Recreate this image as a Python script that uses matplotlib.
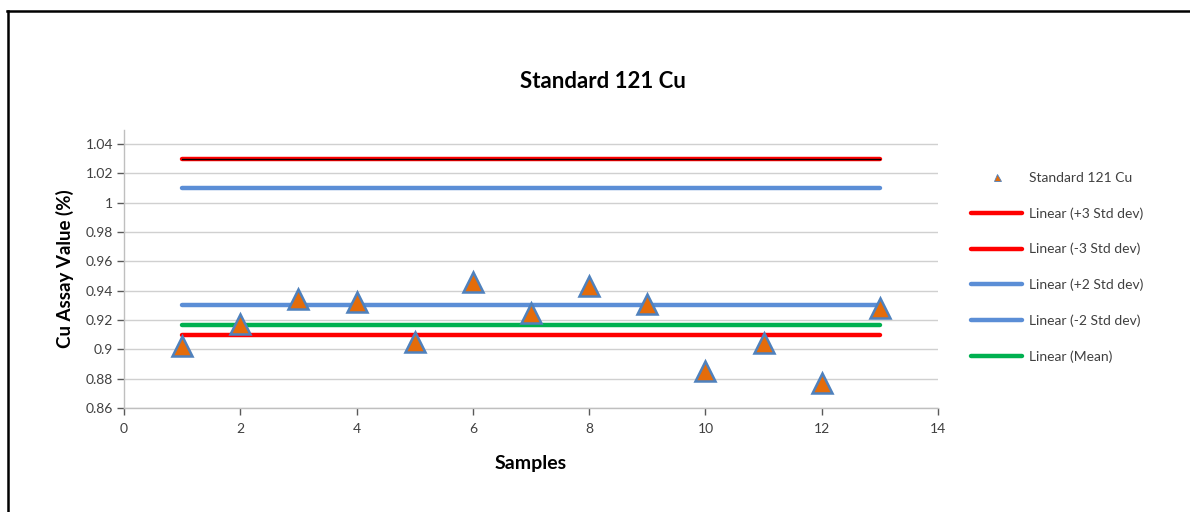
import matplotlib
matplotlib.use("Agg")
import matplotlib.pyplot as plt
from matplotlib.lines import Line2D

plt.rcParams['font.family'] = ['Lato', 'DejaVu Sans']

samples = [1, 2, 3, 4, 5, 6, 7, 8, 9, 10, 11, 12, 13]
cu_values = [0.902, 0.917, 0.934, 0.932, 0.905, 0.946, 0.925, 0.943, 0.931, 0.885, 0.904, 0.877, 0.928]
line_x = [1, 13]
plus3 = [1.03, 1.03]
minus3 = [0.91, 0.91]
plus2 = [1.01, 1.01]
minus2 = [0.93, 0.93]
mean_line = [0.9165, 0.9165]
yticks = [0.86, 0.88, 0.9, 0.92, 0.94, 0.96, 0.98, 1.0, 1.02, 1.04]
ytick_labels = ['0.86', '0.88', '0.9', '0.92', '0.94', '0.96', '0.98', '1', '1.02', '1.04']
xticks = [0, 2, 4, 6, 8, 10, 12, 14]

W, H = 1190, 512
fig = plt.figure(figsize=(W / 100, H / 100), dpi=100)
ax = fig.add_axes([124 / W, (H - 408) / H, (938 - 124) / W, (408 - 130) / H])

RED = '#FF0000'
BLUE = '#5B8ED6'
GREEN = '#00B050'
ORANGE = '#E46C0A'
EDGE = '#4F81BD'

lw = 3.2
ax.plot(line_x, plus3, color=RED, lw=lw, solid_capstyle='round', label='Linear (+3 Std dev)', zorder=3)
ax.plot(line_x, plus3, color='black', lw=1.0, zorder=3.1)
ax.plot(line_x, minus3, color=RED, lw=lw, solid_capstyle='round', label='Linear (-3 Std dev)', zorder=3)
ax.plot(line_x, plus2, color=BLUE, lw=lw, solid_capstyle='round', label='Linear (+2 Std dev)', zorder=3)
ax.plot(line_x, minus2, color=BLUE, lw=lw, solid_capstyle='round', label='Linear (-2 Std dev)', zorder=3)
ax.plot(line_x, mean_line, color=GREEN, lw=lw, solid_capstyle='round', label='Linear (Mean)', zorder=3)
ax.plot(samples, cu_values, linestyle='none', marker='^', markersize=14,
        markerfacecolor=ORANGE, markeredgecolor=EDGE, markeredgewidth=1.8,
        label='Standard 121 Cu', zorder=4)

ax.set_xlim(0, 14)
ax.set_ylim(0.86, 1.0495)
ax.set_xticks(xticks)
ax.set_yticks(yticks)
ax.set_yticklabels(ytick_labels)
ax.tick_params(axis='both', labelsize=10, colors='#595959', length=5, width=1,
               direction='out', labelcolor='#404040')
ax.tick_params(axis='x', pad=6)
ax.tick_params(axis='y', pad=3)
ax.grid(axis='y', color='#D0D0D0', lw=1)
ax.set_axisbelow(True)
for s in ['top', 'right']:
    ax.spines[s].set_visible(False)
for s in ['left', 'bottom']:
    ax.spines[s].set_color('#BFBFBF')
    ax.spines[s].set_linewidth(1)

ax.set_xlabel('Samples', fontsize=14, fontweight='bold', labelpad=14)
ax.set_ylabel('Cu Assay Value (%)', fontsize=13.5, fontweight='bold', labelpad=8)
fig.text(603 / W, (H - 82) / H, 'Standard 121 Cu', fontsize=16, fontweight='bold',
         ha='center', va='center')

handles, labels = ax.get_legend_handles_labels()
order = [5, 0, 1, 2, 3, 4]
leg = fig.legend([handles[i] for i in order], [labels[i] for i in order],
                 loc='upper left', bbox_to_anchor=(964 / W, (H - 165) / H),
                 frameon=False, fontsize=10, handlelength=3.7, labelspacing=1.67,
                 markerscale=0.36, borderpad=0, handletextpad=0.45)
for t in leg.get_texts():
    t.set_color('#404040')
leg.legend_handles[0].set_markeredgewidth(0.6)

# outer frame (partially cropped)
fig.add_artist(Line2D([7.5 / W, 7.5 / W], [0, (H - 11) / H], transform=fig.transFigure,
                      color='black', lw=1.8))
fig.add_artist(Line2D([6.5 / W, 1], [(H - 11) / H, (H - 11) / H], transform=fig.transFigure,
                      color='black', lw=1.8))

fig.savefig('out.png', dpi=100)
